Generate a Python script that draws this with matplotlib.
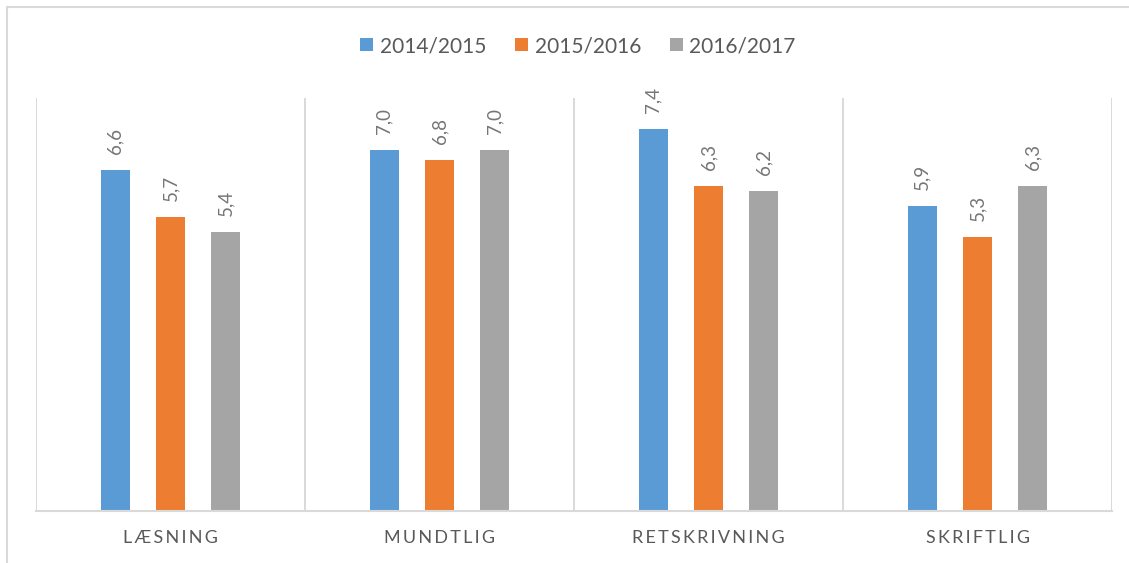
import numpy as np
import matplotlib
matplotlib.use('Agg')
import matplotlib.pyplot as plt
from matplotlib.patches import Rectangle

categories = ['LÆSNING', 'MUNDTLIG', 'RETSKRIVNING', 'SKRIFTLIG']
series = ['2014/2015', '2015/2016', '2016/2017']
values_1415 = [6.6, 7.0, 7.4, 5.9]
values_1516 = [5.7, 6.8, 6.3, 5.3]
values_1617 = [5.4, 7.0, 6.2, 6.3]
colors = ['#5B9BD5', '#ED7D31', '#A5A5A5']

plt.rcParams['font.family'] = ['Lato', 'DejaVu Sans']
text_color = '#595959'
grid_color = '#D9D9D9'

fig = plt.figure(figsize=(11.29, 5.63), dpi=100)
ax = fig.add_axes([36 / 1129, 1 - 511 / 563, 1076 / 1129, 413 / 563])

# frame around chart area (left/top visible only)
fig.patches.append(Rectangle((7 / 1129, -0.1), 1.2, 1.1 - 7 / 563,
                             transform=fig.transFigure, fill=False,
                             edgecolor=grid_color, linewidth=1.5))

x = np.arange(len(categories))
offsets = [-0.206, 0.0, 0.206]
width = 0.108
all_vals = [values_1415, values_1516, values_1617]

for vals, off, col, name in zip(all_vals, offsets, colors, series):
    bars = ax.bar(x + off, vals, width, color=col, label=name, zorder=3)
    for b, v in zip(bars, vals):
        ax.annotate(f'{v:.1f}'.replace('.', ','),
                    (b.get_x() + b.get_width() / 2, b.get_height()),
                    xytext=(0, 11.5), textcoords='offset points',
                    rotation=90, ha='center', va='bottom',
                    fontsize=13.5, color='#767676')

for sep in np.arange(-0.5, len(categories) + 0.5, 1.0):
    ax.axvline(sep, color=grid_color, linewidth=1.4, zorder=1)

ax.set_xlim(-0.5, len(categories) - 0.5)
ax.set_ylim(0, 8)
ax.set_yticks([])
ax.set_xticks(x)
ax.set_xticklabels(['\u2009'.join(c) for c in categories],
                   fontsize=13, color=text_color)
ax.tick_params(axis='x', length=0, pad=14)
for s in ['top', 'left', 'right']:
    ax.spines[s].set_visible(False)
ax.spines['bottom'].set_color(grid_color)
ax.spines['bottom'].set_linewidth(1.5)
ax.spines['bottom'].set_zorder(4)

fig.legend(loc='center', bbox_to_anchor=(578 / 1129, 1 - 46 / 563),
           ncol=3, frameon=False, fontsize=15, labelcolor=text_color,
           handlelength=0.63, handleheight=0.63, handletextpad=0.3,
           columnspacing=1.4)

fig.savefig('out.png', dpi=100)
